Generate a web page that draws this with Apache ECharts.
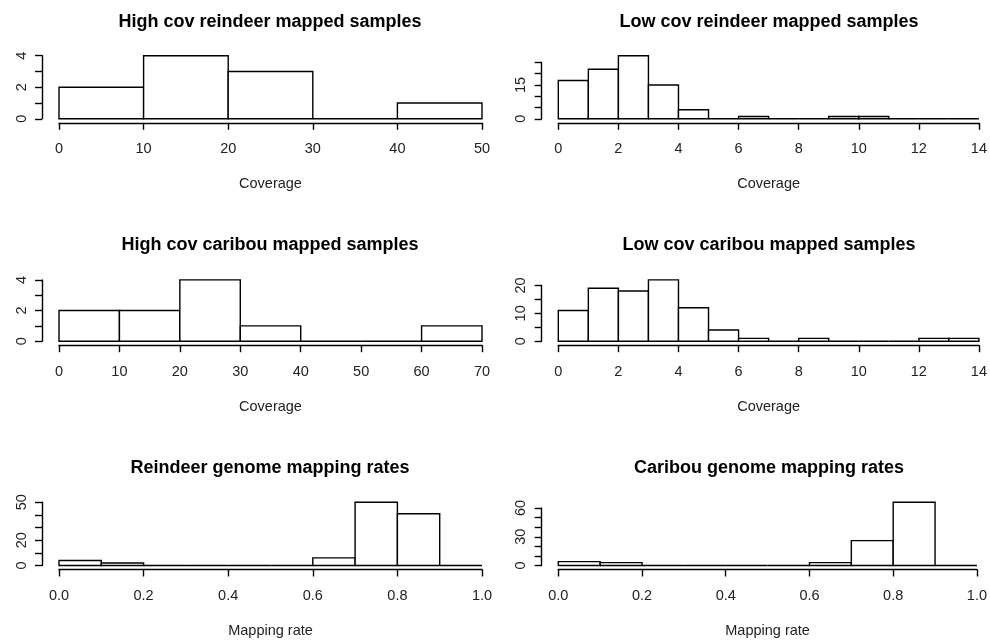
<!DOCTYPE html>
<html>
<head>
<meta charset="utf-8">
<script src="https://cdn.jsdelivr.net/npm/echarts@6/dist/echarts.min.js"></script>
<style>html,body{margin:0;padding:0;background:#fff;}#c{width:990px;height:640px;}</style>
</head>
<body>
<div id="c"></div>
<script>
// ---- data ----
const titles = [
  'High cov reindeer mapped samples', 'Low cov reindeer mapped samples',
  'High cov caribou mapped samples', 'Low cov caribou mapped samples',
  'Reindeer genome mapping rates', 'Caribou genome mapping rates'
];
const xNames = ['Coverage', 'Coverage', 'Coverage', 'Coverage', 'Mapping rate', 'Mapping rate'];

const hcReindeerBreaks = [0, 10, 20, 30, 40, 50];
const hcReindeerCounts = [2, 4, 3, 0, 1];
const lcReindeerBreaks = [0, 1, 2, 3, 4, 5, 6, 7, 8, 9, 10, 11, 12, 13, 14];
const lcReindeerCounts = [17, 22, 28, 15, 4, 0, 1, 0, 0, 1, 1, 0, 0, 0];
const hcCaribouBreaks = [0, 10, 20, 30, 40, 50, 60, 70];
const hcCaribouCounts = [2, 2, 4, 1, 0, 0, 1];
const lcCaribouBreaks = [0, 1, 2, 3, 4, 5, 6, 7, 8, 9, 10, 11, 12, 13, 14];
const lcCaribouCounts = [11, 19, 18, 22, 12, 4, 1, 0, 1, 0, 0, 0, 1, 1];
const reindeerRateBreaks = [0, 0.1, 0.2, 0.3, 0.4, 0.5, 0.6, 0.7, 0.8, 0.9, 1.0];
const reindeerRateCounts = [4, 2, 0, 0, 0, 0, 6, 50, 41, 0];
const caribouRateBreaks = [0, 0.1, 0.2, 0.3, 0.4, 0.5, 0.6, 0.7, 0.8, 0.9, 1.0];
const caribouRateCounts = [4, 3, 0, 0, 0, 0, 3, 26, 66, 0];

const xTickSteps = [10, 2, 10, 2, 0.2, 0.2];
const yTickSteps = [1, 5, 1, 5, 10, 10];
const yTickMax = [4, 25, 4, 20, 50, 60];
const yTickLabels = [[0, 2, 4], [0, 15], [0, 2, 4], [0, 10, 20], [0, 20, 50], [0, 30, 60]];

const breaksList = [hcReindeerBreaks, lcReindeerBreaks, hcCaribouBreaks, lcCaribouBreaks, reindeerRateBreaks, caribouRateBreaks];
const countsList = [hcReindeerCounts, lcReindeerCounts, hcCaribouCounts, lcCaribouCounts, reindeerRateCounts, caribouRateCounts];

// ---- layout ----
const cols = [{x0: 59, x1: 482, axisX: 42, cx: 270}, {x0: 558.3, x1: 980, axisX: 541.7, cx: 769}];
const rows = [{y0: 118.8, h: 63.1, ty: 22}, {y0: 341.2, h: 61.3, ty: 245}, {y0: 565.5, h: 63.2, ty: 468}];
const FONT = "'Liberation Sans', Arial, sans-serif";
const LW = 1.4;

const grid = [], xAxis = [], yAxis = [], series = [], graphic = [];

for (let i = 0; i < 6; i++) {
  const c = cols[i % 2], r = rows[Math.floor(i / 2)];
  const br = breaksList[i], ct = countsList[i];
  const maxCount = Math.max(...ct);
  const xmax = br[br.length - 1];
  const isRate = i >= 4;
  // data grid
  grid.push({left: c.x0, top: r.y0 - r.h, width: c.x1 - c.x0, height: r.h});
  const gData = grid.length - 1;
  xAxis.push({
    type: 'value', gridIndex: gData, min: 0, max: xmax, interval: xTickSteps[i],
    offset: 4,
    axisLine: {show: true, onZero: false, lineStyle: {color: '#000', width: LW}},
    axisTick: {show: true, length: 7, lineStyle: {color: '#000', width: LW}},
    axisLabel: {color: '#222', fontFamily: FONT, fontSize: 14.5, margin: 19,
      formatter: v => isRate ? v.toFixed(1) : String(v)},
    splitLine: {show: false},
    name: xNames[i], nameLocation: 'middle', nameGap: 54,
    nameTextStyle: {color: '#222', fontFamily: FONT, fontSize: 14.5}
  });
  yAxis.push({type: 'value', gridIndex: gData, min: 0, max: maxCount, show: false, splitLine: {show: false}});
  // axis grid (y axis spans 0..max tick)
  const hAx = r.h * yTickMax[i] / maxCount;
  grid.push({left: c.x0, top: r.y0 - hAx, width: c.x1 - c.x0, height: hAx});
  const gAx = grid.length - 1;
  xAxis.push({type: 'value', gridIndex: gAx, min: 0, max: xmax, show: false});
  const labs = yTickLabels[i];
  yAxis.push({
    type: 'value', gridIndex: gAx, min: 0, max: yTickMax[i], interval: yTickSteps[i],
    offset: c.x0 - c.axisX,
    axisLine: {show: true, onZero: false, lineStyle: {color: '#000', width: LW}},
    axisTick: {show: true, length: 7, lineStyle: {color: '#000', width: LW}},
    axisLabel: {color: '#222', fontFamily: FONT, fontSize: 14.5, rotate: 90, margin: 13,
      formatter: v => labs.indexOf(v) >= 0 ? String(v) : ''},
    splitLine: {show: false}
  });
  const data = ct.map((v, k) => [br[k], br[k + 1], v]);
  series.push({
    type: 'custom', xAxisIndex: gData, yAxisIndex: gData, clip: false,
    encode: {x: [0, 1], y: 2},
    data: data,
    renderItem: function (params, api) {
      const p0 = api.coord([api.value(0), api.value(2)]);
      const p1 = api.coord([api.value(1), 0]);
      return {type: 'rect', shape: {x: p0[0], y: p0[1], width: p1[0] - p0[0], height: p1[1] - p0[1]},
        style: {fill: '#fff', stroke: '#000', lineWidth: LW}};
    }
  });
  graphic.push({type: 'text', x: c.cx, y: r.ty,
    style: {text: titles[i], fill: '#000', font: "bold 18px " + FONT, textAlign: 'center', textVerticalAlign: 'middle'}});
}

const chart = echarts.init(document.getElementById('c'), null, {renderer: 'canvas'});
chart.setOption({animation: false, backgroundColor: '#fff', grid, xAxis, yAxis, series, graphic});
</script>
</body>
</html>
